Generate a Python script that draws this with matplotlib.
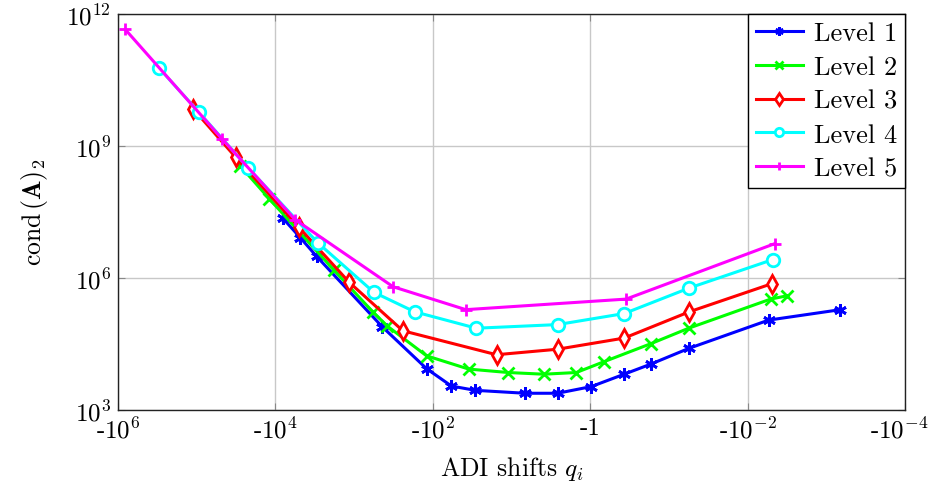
import numpy as np
import matplotlib
matplotlib.use("Agg")
import matplotlib.pyplot as plt
import matplotlib.transforms as mtransforms

plt.rcParams['font.family'] = 'serif'
plt.rcParams['font.serif'] = ['cmr10']
plt.rcParams['mathtext.fontset'] = 'cm'
plt.rcParams['axes.unicode_minus'] = False

# ADI shifts (negative) and condition numbers
q1 = [-8.1e3, -4.8e3, -3.0e3, -440, -120, -58, -29, -6.7, -2.6, -0.97, -0.37, -0.17, -0.056, -5.4e-3, -6.6e-4]
c1 = [2.3e7, 8.1e6, 3.1e6, 7.8e4, 8.7e3, 3.5e3, 2.8e3, 2.4e3, 2.4e3, 3.4e3, 6.5e3, 1.1e4, 2.5e4, 1.1e5, 1.9e5]

q2 = [-2.8e4, -1.2e4, -1.8e3, -580, -380, -120, -35, -11, -3.9, -1.5, -0.66, -0.17, -0.056, -5.1e-3, -3.2e-3]
c2 = [3.5e8, 6.3e7, 1.5e6, 1.7e5, 8.1e4, 1.7e4, 8.5e3, 7.1e3, 6.5e3, 7.1e3, 1.26e4, 3.2e4, 7.2e4, 3.3e5, 3.9e5]

q3 = [-1.1e5, -3.2e4, -5.0e3, -1.15e3, -240, -15.5, -2.6, -0.37, -0.055, -4.9e-3]
c3 = [6.8e9, 5.5e8, 1.4e7, 7.9e5, 6.3e4, 1.8e4, 2.4e4, 4.3e4, 1.7e5, 7.4e5]

q4 = [-3.0e5, -9.4e4, -2.2e4, -2.9e3, -560, -170, -28, -2.6, -0.37, -0.055, -4.8e-3]
c4 = [5.8e10, 5.8e9, 3.1e8, 6.3e6, 4.7e5, 1.7e5, 7.2e4, 8.7e4, 1.55e5, 5.9e5, 2.6e6]

q5 = [-8.1e5, -4.7e4, -5.6e3, -320, -38, -0.35, -4.5e-3]
c5 = [4.4e11, 1.4e9, 2.1e7, 6.3e5, 1.9e5, 3.3e5, 6.0e6]

xticks = [1e6, 1e4, 1e2, 1, 1e-2, 1e-4]
xticklabels = ['-$10^{6}$', '-$10^{4}$', '-$10^{2}$', '-1', '-$10^{-2}$', '-$10^{-4}$']
yticks = [1e3, 1e6, 1e9, 1e12]
yticklabels = ['$10^{3}$', '$10^{6}$', '$10^{9}$', '$10^{12}$']

fig = plt.figure(figsize=(9.32, 4.89), dpi=100)
ax = fig.add_axes([0.1266, 0.1595, 0.971 - 0.1266, 0.970 - 0.1595])

series = [
    (q1, c1, '#0000ff', (6, 2, 0), 'none', 'Level 1'),
    (q2, c2, '#00ff00', 'x', 'none', 'Level 2'),
    (q3, c3, '#ff0000', 'd', 'white', 'Level 3'),
    (q4, c4, '#00ffff', 'o', 'white', 'Level 4'),
    (q5, c5, '#ff00ff', '+', 'none', 'Level 5'),
]
for q, c, col, mk, mfc, lab in series:
    ax.plot(np.abs(q), c, color=col, lw=2.2, marker=mk, ms=9, mew=2,
            mfc=mfc, mec=col, label=lab)

ax.set_xscale('log')
ax.set_yscale('log')
ax.set_xlim(1e6, 1e-4)
ax.set_ylim(1e3, 1e12)
ax.set_xticks(xticks)
ax.set_xticklabels(xticklabels, fontsize=18)
ax.set_yticks(yticks)
ax.set_yticklabels(yticklabels, fontsize=18)
ax.minorticks_off()
ax.tick_params(direction='in', length=5, color='#888888', top=True, right=True, pad=5)
ax.grid(True, color='#c8c8c8', lw=1)
for s in ax.spines.values():
    s.set_linewidth(1)
    s.set_color('#222222')

# pull the last x tick label in a little so it stays inside the canvas
last = ax.get_xticklabels()[-1]
last.set_transform(last.get_transform() + mtransforms.ScaledTranslation(-6 / 100, 0, fig.dpi_scale_trans))

ax.set_xlabel(r'ADI shifts $q_i$', fontsize=18.5, labelpad=8)
ax.set_ylabel(r'cond$\,(\mathbf{A})_2$', fontsize=18.5, labelpad=12)

leg = ax.legend(loc='upper right', fontsize=19, frameon=True, fancybox=False,
                edgecolor='black', framealpha=1, borderpad=0.3, labelspacing=0.38,
                handlelength=1.8, handletextpad=0.4, borderaxespad=0)
leg.get_frame().set_linewidth(1)
for h in leg.legend_handles:
    h.set_markersize(6)

fig.savefig('out.png', dpi=100)
